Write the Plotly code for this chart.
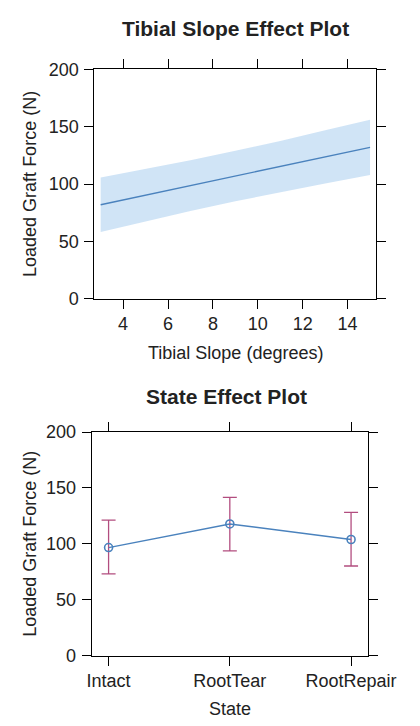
import plotly.graph_objects as go

# ---- Data: Tibial Slope effect ----
slope_x = [3, 5, 7, 9, 11, 13, 15]
slope_fit = [82.0, 90.3, 98.7, 107.0, 115.3, 123.7, 132.0]
slope_lower = [58.3, 67.5, 76.5, 85.0, 93.0, 100.5, 108.0]
slope_upper = [105.7, 113.0, 120.8, 129.0, 137.5, 146.8, 156.0]
slope_ticks = [4, 6, 8, 10, 12, 14]

# ---- Data: State effect ----
states = ["Intact", "RootTear", "RootRepair"]
state_fit = [96.7, 117.8, 103.9]
state_lower = [73.2, 93.8, 80.2]
state_upper = [121.2, 141.5, 128.2]

y_ticks = [0, 50, 100, 150, 200]

FONT = "Liberation Sans, Arial, sans-serif"
LINE_C = "#4a82bd"
BAND_C = "rgba(203,225,245,0.9)"
ERR_C = "#b24d7f"
TXT_C = "#222222"

W, H = 420, 726

fig = go.Figure()

# band
fig.add_trace(go.Scatter(x=slope_x, y=slope_lower, mode="lines", line=dict(width=0, color=BAND_C),
                         showlegend=False, hoverinfo="skip", xaxis="x", yaxis="y"))
fig.add_trace(go.Scatter(x=slope_x, y=slope_upper, mode="lines", line=dict(width=0, color=BAND_C),
                         fill="tonexty", fillcolor=BAND_C, showlegend=False, hoverinfo="skip",
                         xaxis="x", yaxis="y"))
fig.add_trace(go.Scatter(x=slope_x, y=slope_fit, mode="lines", line=dict(width=1.4, color=LINE_C),
                         showlegend=False, xaxis="x", yaxis="y"))

# state error bars
err_plus = [u - f for u, f in zip(state_upper, state_fit)]
err_minus = [f - l for f, l in zip(state_fit, state_lower)]
xi = list(range(len(states)))
fig.add_trace(go.Scatter(x=xi, y=state_fit, mode="markers", marker=dict(size=1, opacity=0),
                         error_y=dict(type="data", array=err_plus, arrayminus=err_minus,
                                      color=ERR_C, thickness=1.3, width=7),
                         showlegend=False, xaxis="x2", yaxis="y2"))
fig.add_trace(go.Scatter(x=xi, y=state_fit, mode="lines+markers",
                         line=dict(width=1.4, color=LINE_C),
                         marker=dict(symbol="circle-open", size=8, color=LINE_C, line=dict(width=1.6)),
                         showlegend=False, xaxis="x2", yaxis="y2"))

def px_x(p):
    return p / W

def px_y(p):
    return 1 - p / H

axis_common = dict(showline=True, linecolor="black", linewidth=1, mirror="ticks",
                   ticks="outside", ticklen=9, tickcolor="black", tickwidth=1,
                   showgrid=False, zeroline=False, ticklabeloverflow="allow",
                   tickfont=dict(family=FONT, size=18, color=TXT_C))

fig.update_layout(
    width=W, height=H,
    margin=dict(l=0, r=0, t=0, b=0),
    paper_bgcolor="white", plot_bgcolor="white",
    font=dict(family=FONT, color=TXT_C),
    xaxis=dict(domain=[px_x(97), px_x(403)], anchor="y", range=[2.72, 15.28],
               tickvals=slope_ticks, ticklabelstandoff=0, **axis_common),
    yaxis=dict(domain=[px_y(297), px_y(61)], anchor="x", range=[0, 200],
               tickvals=y_ticks, ticklabelstandoff=2, **axis_common),
    xaxis2=dict(domain=[px_x(94), px_x(394)], anchor="y2", range=[-0.14, 2.14],
                tickvals=xi, ticktext=states, ticklabelstandoff=0, **axis_common),
    yaxis2=dict(domain=[px_y(664), px_y(434)], anchor="x2", range=[0, 200],
                tickvals=y_ticks, ticklabelstandoff=2, **axis_common),
)

ann = []
ann.append(dict(text="<b>Tibial Slope Effect Plot</b>", x=px_x(250), y=px_y(19), xref="paper", yref="paper",
                showarrow=False, font=dict(family=FONT, size=21, color=TXT_C), xanchor="center", yanchor="middle"))
ann.append(dict(text="<b>State Effect Plot</b>", x=px_x(240), y=px_y(397), xref="paper", yref="paper",
                showarrow=False, font=dict(family=FONT, size=21, color=TXT_C), xanchor="center", yanchor="middle"))
ann.append(dict(text="Tibial Slope (degrees)", x=px_x(250), y=px_y(353), xref="paper", yref="paper",
                showarrow=False, font=dict(family=FONT, size=18, color=TXT_C), xanchor="center", yanchor="middle"))
ann.append(dict(text="State", x=px_x(244), y=px_y(719), xref="paper", yref="paper",
                showarrow=False, font=dict(family=FONT, size=18, color=TXT_C), xanchor="center", yanchor="middle"))
for yc in (179, 549):
    ann.append(dict(text="Loaded Graft Force (N)", x=px_x(27), y=px_y(yc), xref="paper", yref="paper",
                    showarrow=False, textangle=-90, font=dict(family=FONT, size=18, color=TXT_C),
                    xanchor="center", yanchor="middle"))
fig.update_layout(annotations=ann)

fig.write_html("out.html", config={"displayModeBar": False},
               post_script="document.body.style.margin='0';document.body.style.overflow='hidden';")
